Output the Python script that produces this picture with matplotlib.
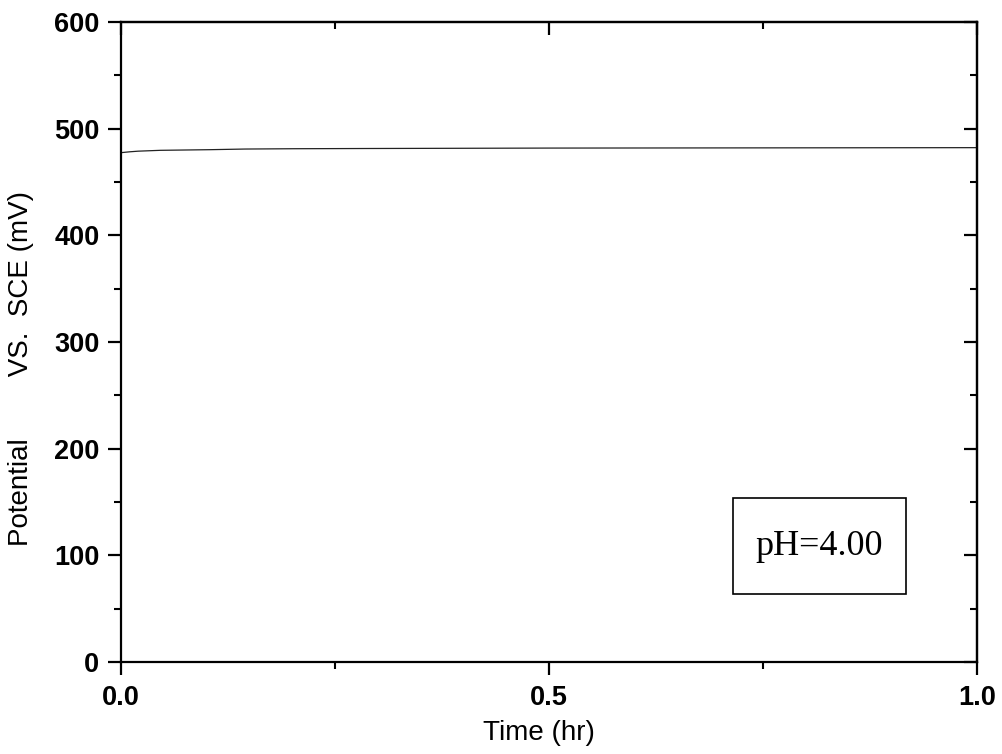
import matplotlib
matplotlib.use("Agg")
import matplotlib.pyplot as plt
from matplotlib.patches import Rectangle
from matplotlib.ticker import MultipleLocator

time_hr = [0.0, 0.01, 0.02, 0.046, 0.104, 0.145, 0.203, 0.285, 0.5, 0.75, 1.0]
potential_mV = [477.5, 478.3, 478.9, 479.7, 480.3, 480.9, 481.2, 481.4, 481.8, 482.0, 482.2]
x_ticks = [0.0, 0.5, 1.0]
x_tick_labels = ["0.0", "0.5", "1.0"]
y_ticks = [0, 100, 200, 300, 400, 500, 600]
annotation = "pH=4.00"

plt.rcParams['font.family'] = ['Liberation Sans', 'DejaVu Sans']

fig = plt.figure(figsize=(10.02, 7.54), dpi=100)
ax = fig.add_axes([121/1002, 92/754, 856/1002, 640/754])

ax.plot(time_hr, potential_mV, color='#222222', lw=0.9)
ax.set_xlim(0, 1.0)
ax.set_ylim(0, 600)

ax.set_xticks(x_ticks)
ax.set_xticklabels(x_tick_labels)
ax.set_yticks(y_ticks)
ax.xaxis.set_minor_locator(MultipleLocator(0.25))
ax.yaxis.set_minor_locator(MultipleLocator(50))

for s in ax.spines.values():
    s.set_linewidth(1.6)

ax.tick_params(which='major', direction='out', length=9.5, width=1.6,
               labelsize=19.5, pad=6, top=False, right=False)
ax.tick_params(which='minor', direction='out', length=5, width=1.5, top=False, right=False)
ax.tick_params(axis='x', which='major', pad=7)
for lab in ax.get_xticklabels() + ax.get_yticklabels():
    lab.set_fontweight('bold')

# inward ticks on the top and right
ax2 = ax.secondary_xaxis('top')
ax2.set_xticks(x_ticks)
ax2.xaxis.set_minor_locator(MultipleLocator(0.25))
ax2.tick_params(which='major', direction='in', length=9.5, width=1.6, labeltop=False)
ax2.tick_params(which='minor', direction='in', length=5, width=1.5)
ax2.set_xticklabels([])
ax3 = ax.secondary_yaxis('right')
ax3.set_yticks(y_ticks)
ax3.yaxis.set_minor_locator(MultipleLocator(50))
ax3.tick_params(which='major', direction='in', length=9.5, width=1.6)
ax3.tick_params(which='minor', direction='in', length=5, width=1.5)
ax3.set_yticklabels([])
for sec in (ax2, ax3):
    for s in sec.spines.values():
        s.set_linewidth(1.6)

ax.set_xlabel("Time (hr)", fontsize=20)
ax.set_ylabel("Potential        VS.  SCE (mV)", fontsize=20)
ax.xaxis.set_label_coords(0.488, -0.091)
ax.yaxis.set_label_coords(-0.102, 0.459)

ax.add_patch(Rectangle((0.715, 0.106), 0.202, 0.150, transform=ax.transAxes,
                       fill=False, edgecolor='black', lw=1.2))
ax.text(0.816, 0.181, annotation, transform=ax.transAxes, ha='center', va='center',
        fontsize=26, family=['Liberation Serif', 'DejaVu Serif'])

fig.savefig("out.png", dpi=100)
